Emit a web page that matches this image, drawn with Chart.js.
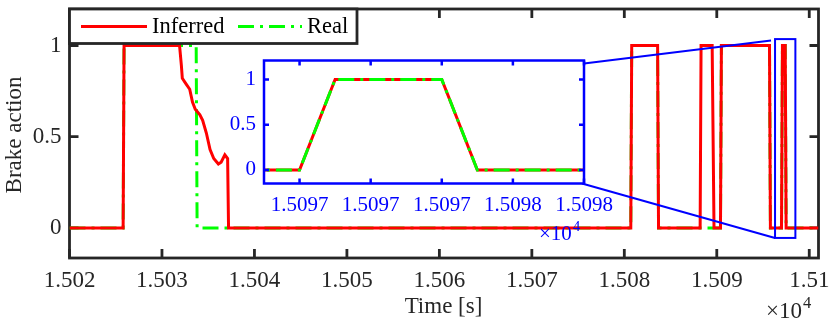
<!DOCTYPE html>
<html>
<head>
<meta charset="utf-8">
<script src="https://cdn.jsdelivr.net/npm/chart.js@4.4.1/dist/chart.umd.min.js"></script>
<style>
  body { margin: 0; background: #fff; }
  #wrap { position: relative; width: 831px; height: 328px; }
  #main { position: absolute; left: 0; top: 0; }
  #inset { position: absolute; left: 200px; top: 40px; }
</style>
</head>
<body>
<div id="wrap">
  <canvas id="main" width="831" height="328"></canvas>
  <canvas id="inset" width="420" height="220"></canvas>
</div>
<script>
// Brake action, time in seconds (axis shows value / 1e4)
const inferredTime = [15020, 15025.8, 15025.9, 15031.9, 15032.1, 15032.2, 15032.6, 15033.0, 15033.3, 15033.6,
    15034.1, 15034.4, 15034.8, 15035.2, 15035.6, 15036.1, 15036.4, 15036.8, 15037.1, 15037.2,
    15080.7, 15080.8, 15083.6, 15083.7, 15088.2, 15088.3, 15089.5, 15089.7, 15090.4, 15090.5,
    15095.7, 15095.8, 15097.0, 15097.1, 15097.4, 15097.5, 15101];
const inferredValue = [0, 0, 1, 1, 0.89, 0.82, 0.79, 0.76, 0.69, 0.65,
    0.62, 0.59, 0.52, 0.43, 0.38, 0.35, 0.36, 0.40, 0.38, 0,
    0, 1, 1, 0, 0, 1, 1, 0, 0, 1,
    1, 0, 0, 1, 1, 0, 0];
const realTime = [15020, 15025.8, 15025.9, 15033.7, 15033.8, 15080.7, 15080.8, 15083.6, 15083.7,
    15090.4, 15090.5, 15095.7, 15095.8, 15097.0, 15097.1, 15097.4, 15097.5, 15101];
const realValue = [0, 0, 1, 1, 0, 0, 1, 1, 0, 0, 1, 1, 0, 0, 1, 1, 0, 0];

const xTicks = [15020, 15030, 15040, 15050, 15060, 15070, 15080, 15090, 15100];
const yTicks = [0, 0.5, 1];
const insetXTicks = [15097.0, 15097.2, 15097.4, 15097.6, 15097.8];
const insetYTicks = [0, 0.5, 1];

// zoomed region marked on the main axes (data units)
const zoomBox = { x0: 15096.3, x1: 15098.5, y0: -0.055, y1: 1.035 };
// inset axes position on the page
const INSET = { left: 264, top: 60.5, right: 584, bottom: 183.5 };

const RED = '#ff0000', GREEN = '#00ff00', BLUE = '#0000ff', AX = '#262626';
const FONT = '"Liberation Serif", "Times New Roman", serif';
const DASH = [16, 6, 3, 6];

Chart.defaults.font.family = FONT;
Chart.defaults.animation = false;

const pts = (t, v) => t.map((x, i) => ({ x, y: v[i] }));
// keep the plot box where we put it (no room reserved for end labels)
const noPadX = s => { s.paddingLeft = 0; s.paddingRight = 0; };
const noPadY = s => { s.paddingTop = 0; s.paddingBottom = 0; };

function inwardTicks(ctx, chart, len, xt, yt) {
    const { chartArea: a, scales: { x, y } } = chart;
    ctx.beginPath();
    xt.forEach(v => {
        const px = x.getPixelForValue(v);
        ctx.moveTo(px, a.bottom); ctx.lineTo(px, a.bottom - len);
        ctx.moveTo(px, a.top); ctx.lineTo(px, a.top + len);
    });
    yt.forEach(v => {
        const py = y.getPixelForValue(v);
        ctx.moveTo(a.left, py); ctx.lineTo(a.left + len, py);
        ctx.moveTo(a.right, py); ctx.lineTo(a.right - len, py);
    });
    ctx.stroke();
}

function power10(ctx, x, base, size, color) {
    ctx.fillStyle = color;
    ctx.textAlign = 'left';
    ctx.textBaseline = 'alphabetic';
    ctx.font = size + 'px ' + FONT;
    ctx.fillText('\u00d710', x, base);
    const w = ctx.measureText('\u00d710').width;
    ctx.font = (size * 0.72) + 'px ' + FONT;
    ctx.fillText('4', x + w + 1, base - size * 0.45);
}

const mainDecor = {
    id: 'mainDecor',
    beforeDatasetsDraw(chart) {
        const { ctx, chartArea: a } = chart;
        ctx.save();
        ctx.strokeStyle = AX;
        ctx.lineWidth = 2.8;
        inwardTicks(ctx, chart, 9, xTicks, yTicks);
        ctx.strokeRect(a.left, a.top, a.width, a.height);
        ctx.restore();
    },
    afterDraw(chart) {
        const { ctx, scales: { x, y } } = chart;
        ctx.save();

        // zoom marker and connectors
        const bx0 = x.getPixelForValue(zoomBox.x0), bx1 = x.getPixelForValue(zoomBox.x1);
        const by0 = y.getPixelForValue(zoomBox.y1), by1 = y.getPixelForValue(zoomBox.y0);
        ctx.strokeStyle = BLUE;
        ctx.lineWidth = 2;
        ctx.strokeRect(bx0, by0, bx1 - bx0, by1 - by0);
        ctx.beginPath();
        ctx.moveTo(INSET.right, INSET.top + 3); ctx.lineTo(bx0 - 4, by0 + 1.5);
        ctx.moveTo(INSET.right - 2, INSET.bottom); ctx.lineTo(bx0, by1);
        ctx.stroke();

        // legend
        const L = { left: 69.5, top: 9, right: 357, bottom: 43.5 };
        ctx.fillStyle = '#fff';
        ctx.fillRect(L.left, L.top, L.right - L.left, L.bottom - L.top);
        ctx.strokeStyle = AX;
        ctx.lineWidth = 2.8;
        ctx.strokeRect(L.left, L.top, L.right - L.left, L.bottom - L.top);
        const ly = 26.5;
        ctx.lineWidth = 3;
        ctx.strokeStyle = RED;
        ctx.beginPath(); ctx.moveTo(81, ly); ctx.lineTo(147, ly); ctx.stroke();
        ctx.strokeStyle = GREEN;
        ctx.setLineDash(DASH);
        ctx.beginPath(); ctx.moveTo(238, ly); ctx.lineTo(302, ly); ctx.stroke();
        ctx.setLineDash([]);
        ctx.fillStyle = '#000';
        ctx.font = '22.5px ' + FONT;
        ctx.textBaseline = 'middle';
        ctx.textAlign = 'left';
        ctx.fillText('Inferred', 152, 27.5);
        ctx.fillText('Real', 307, 27.5);

        // axis titles
        ctx.fillStyle = AX;
        ctx.font = '23px ' + FONT;
        ctx.textAlign = 'center';
        ctx.fillText('Time [s]', 443.5, 307);
        ctx.save();
        ctx.translate(15, 135);
        ctx.rotate(-Math.PI / 2);
        ctx.fillText('Brake action', 0, 0);
        ctx.restore();

        power10(ctx, 766, 318, 23, AX);
        ctx.restore();
    }
};

const insetDecor = {
    id: 'insetDecor',
    beforeDraw(chart) {
        const { ctx, chartArea: a } = chart;
        ctx.save();
        ctx.fillStyle = '#fff';
        ctx.fillRect(a.left, a.top, a.width, a.height);
        ctx.restore();
    },
    afterDraw(chart) {
        const { ctx, chartArea: a } = chart;
        ctx.save();
        ctx.strokeStyle = BLUE;
        ctx.lineWidth = 2.5;
        inwardTicks(ctx, chart, 5, insetXTicks, insetYTicks);
        ctx.strokeRect(a.left, a.top, a.width, a.height);
        power10(ctx, 339, 200, 21, BLUE);
        ctx.restore();
    }
};

new Chart(document.getElementById('main'), {
    type: 'line',
    data: {
        datasets: [
            {
                label: 'Inferred',
                data: pts(inferredTime, inferredValue),
                borderColor: RED,
                borderWidth: 3,
                pointRadius: 0,
                borderJoinStyle: 'miter'
            },
            {
                label: 'Real',
                data: pts(realTime, realValue),
                borderColor: GREEN,
                borderWidth: 3,
                borderDash: DASH,
                pointRadius: 0,
                borderJoinStyle: 'miter'
            }
        ]
    },
    options: {
        responsive: false,
        devicePixelRatio: 1,
        layout: { padding: { top: 9, right: 12.5, left: 0, bottom: 0 } },
        plugins: { legend: { display: false }, tooltip: { enabled: false } },
        scales: {
            x: {
                type: 'linear',
                min: 15020,
                max: 15101,
                afterFit: s => { s.height = 70; noPadX(s); },
                afterBuildTicks: s => { s.ticks = xTicks.map(v => ({ value: v })); },
                grid: { display: false, drawTicks: false },
                border: { display: false },
                ticks: {
                    autoSkip: false, maxRotation: 0, padding: 9,
                    color: AX, font: { size: 23 },
                    callback: v => String(Number((v / 1e4).toFixed(4)))
                }
            },
            y: {
                min: -0.165,
                max: 1.2,
                afterFit: s => { s.width = 69.5; noPadY(s); },
                afterBuildTicks: s => { s.ticks = yTicks.map(v => ({ value: v })); },
                grid: { display: false, drawTicks: false },
                border: { display: false },
                ticks: { padding: 8, color: AX, font: { size: 23 }, callback: v => String(v) }
            }
        }
    },
    plugins: [mainDecor]
});

new Chart(document.getElementById('inset'), {
    type: 'line',
    data: {
        datasets: [
            {
                label: 'Real',
                data: pts(realTime, realValue),
                borderColor: GREEN,
                borderWidth: 3,
                borderDash: DASH,
                pointRadius: 0
            },
            {
                label: 'Inferred',
                data: pts(inferredTime, inferredValue),
                borderColor: RED,
                borderWidth: 3,
                pointRadius: 0
            }
        ]
    },
    options: {
        responsive: false,
        devicePixelRatio: 1,
        layout: { padding: { top: INSET.top - 40, right: 420 - (INSET.right - 200), left: 0, bottom: 0 } },
        plugins: { legend: { display: false }, tooltip: { enabled: false } },
        scales: {
            x: {
                type: 'linear',
                min: 15096.9,
                max: 15097.8,
                afterFit: s => { s.height = 220 - (INSET.bottom - 40); noPadX(s); },
                afterBuildTicks: s => { s.ticks = insetXTicks.map(v => ({ value: v })); },
                grid: { display: false, drawTicks: false },
                border: { display: false },
                ticks: {
                    autoSkip: false, maxRotation: 0, padding: 9,
                    color: BLUE, font: { size: 21 },
                    callback: v => (v / 1e4).toFixed(4)
                }
            },
            y: {
                min: -0.15,
                max: 1.21,
                afterFit: s => { s.width = INSET.left - 200; noPadY(s); },
                afterBuildTicks: s => { s.ticks = insetYTicks.map(v => ({ value: v })); },
                grid: { display: false, drawTicks: false },
                border: { display: false },
                ticks: { padding: 8, color: BLUE, font: { size: 21 }, callback: v => String(v) }
            }
        }
    },
    plugins: [insetDecor]
});
</script>
</body>
</html>
